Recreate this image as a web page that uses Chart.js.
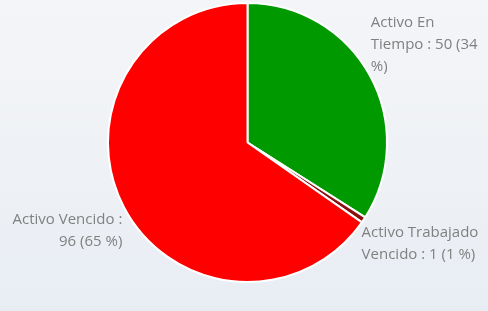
<!DOCTYPE html>
<html>
<head>
<meta charset="utf-8">
<script src="https://cdn.jsdelivr.net/npm/chart.js@4.4.0/dist/chart.umd.min.js"></script>
<style>
  html, body { margin: 0; padding: 0; }
  body {
    width: 488px; height: 311px; overflow: hidden;
    background: linear-gradient(to bottom, #f4f5f8 0%, #eef1f5 55%, #e8edf4 100%);
  }
  #chart { display: block; }
</style>
</head>
<body>
<canvas id="chart" width="488" height="311"></canvas>
<script>
var categories = ['Activo En Tiempo', 'Activo Trabajado Vencido', 'Activo Vencido'];
var values = [50, 1, 96];
var colors = ['#009900', '#8b1111', '#ff0000'];

// where each label sits relative to the edge of its slice, and how wide it may get
var labelOffsets = [
  { dx: 1, dy: -53, align: 'left', maxW: 109 },
  { dx: -2, dy: 13, align: 'left', maxW: 124 },
  { dx: -1.5, dy: 13, align: 'right', maxW: 120 }
];

var wrapText = (ctx, text, maxWidth) => {
  var words = text.split(' ');
  var lines = [];
  var cur = '';
  words.forEach(function(w) {
    var test = cur ? cur + ' ' + w : w;
    if (cur && ctx.measureText(test).width > maxWidth) {
      lines.push(cur);
      cur = w;
    } else {
      cur = test;
    }
  });
  if (cur) lines.push(cur);
  return lines;
}

var outsideLabels = {
  id: 'outsideLabels',
  afterDatasetsDraw: function(chart) {
    var ctx = chart.ctx;
    var meta = chart.getDatasetMeta(0);
    var total = values.reduce(function(a, b) { return a + b; }, 0);
    ctx.save();
    ctx.font = '15px "Open Sans"';
    ctx.fillStyle = '#808080';
    ctx.textBaseline = 'middle';
    meta.data.forEach(function(arc, i) {
      var mid = (arc.startAngle + arc.endAngle) / 2;
      var ex = arc.x + Math.cos(mid) * arc.outerRadius;
      var ey = arc.y + Math.sin(mid) * arc.outerRadius;
      var o = labelOffsets[i];
      var x = ex + o.dx;
      var y = ey + o.dy;
      var pct = Math.round(values[i] / total * 100);
      var text = categories[i] + ' : ' + values[i] + ' (' + pct + ' %)';
      var lines = wrapText(ctx, text, o.maxW);
      ctx.textAlign = o.align;
      lines.forEach(function(line, j) {
        ctx.fillText(line, x, y + j * 22);
      });
    });
    ctx.restore();
  }
};

var ctx = document.getElementById('chart').getContext('2d');
var pie = new Chart(ctx, {
  type: 'pie',
  data: {
    labels: categories,
    datasets: [{
      data: values,
      backgroundColor: colors,
      borderColor: '#ffffff',
      borderWidth: 2
    }]
  },
  options: {
    responsive: false,
    animation: false,
    layout: { padding: { top: 2, bottom: 28, left: 107, right: 100 } },
    plugins: {
      legend: { display: false },
      tooltip: { enabled: false }
    }
  },
  plugins: [outsideLabels]
});
</script>
</body>
</html>
